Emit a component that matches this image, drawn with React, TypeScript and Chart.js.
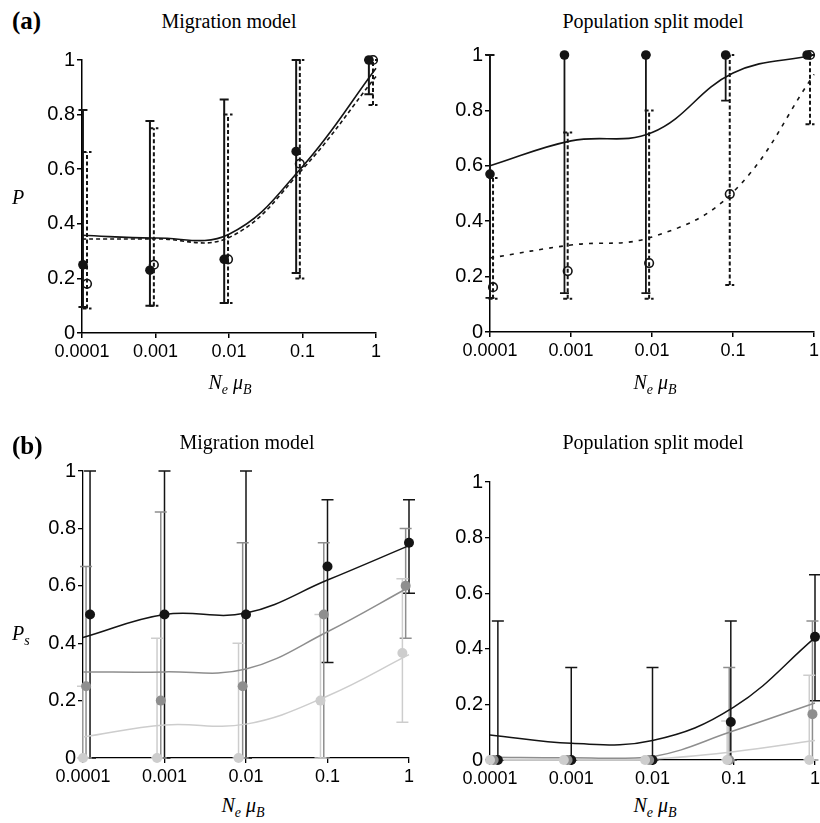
import React, { useEffect, useRef } from 'react';
import { Chart, registerables } from 'chart.js';
Chart.register(...registerables);

// ---------- shared axis data ----------
const X_TICKS = [0.0001, 0.001, 0.01, 0.1, 1];
const X_TICK_LABELS = ['0.0001', '0.001', '0.01', '0.1', '1'];
const Y_TICKS = [0, 0.2, 0.4, 0.6, 0.8, 1];
const Y_TICK_LABELS = ['0', '0.2', '0.4', '0.6', '0.8', '1'];
const CURVE_X = [0.0001, 0.001, 0.01, 0.1, 1];

// ---------- (a) Migration model ----------
const aMigFilledX = [0.000103, 0.00084, 0.0086, 0.082, 0.8];
const aMigFilledP = [0.25, 0.23, 0.27, 0.665, 1.0];
const aMigFilledLo = [0.095, 0.1, 0.11, 0.22, 0.875];
const aMigFilledHi = [0.817, 0.777, 0.855, 1.0, 1.0];
const aMigOpenX = [0.000117, 0.00095, 0.0097, 0.092, 0.91];
const aMigOpenP = [0.18, 0.25, 0.27, 0.62, 1.0];
const aMigOpenLo = [0.09, 0.1, 0.11, 0.2, 0.835];
const aMigOpenHi = [0.663, 0.75, 0.8, 1.0, 1.0];
const aMigSolidCurve = [0.358, 0.348, 0.362, 0.61, 0.97];
const aMigDashedCurve = [0.344, 0.345, 0.35, 0.6, 0.94];

// ---------- (a) Population split model ----------
const aSplitFilledX = [0.0001, 0.00083, 0.0084, 0.081, 0.82];
const aSplitFilledP = [0.57, 1, 1, 1, 1];
const aSplitFilledLo = [0.123, 0.14, 0.14, 0.835, 1];
const aSplitFilledHi = [1, 1, 1, 1, 1];
const aSplitOpenX = [0.000109, 0.00091, 0.0092, 0.091, 0.89];
const aSplitOpenP = [0.162, 0.22, 0.249, 0.498, 1];
const aSplitOpenLo = [0.12, 0.12, 0.12, 0.17, 0.75];
const aSplitOpenHi = [0.556, 0.72, 0.8, 1.0, 1.0];
const aSplitSolidCurve = [0.6, 0.69, 0.72, 0.935, 1.0];
const aSplitDashedCurve = [0.267, 0.314, 0.343, 0.505, 0.93];

// ---------- (b) Migration model ----------
const bMigBlackX = [0.000122, 0.001, 0.01, 0.1, 1];
const bMigGrayX = [0.000109, 0.0009, 0.0091, 0.09, 0.91];
const bMigLightX = [0.0001, 0.00081, 0.0081, 0.082, 0.83];
const bMigBlackP = [0.5, 0.5, 0.5, 0.667, 0.75];
const bMigBlackLo = [0, 0, 0, 0.333, 0.574];
const bMigBlackHi = [1, 1, 1, 0.9, 0.9];
const bMigGrayP = [0.25, 0.2, 0.25, 0.5, 0.6];
const bMigGrayLo = [0, 0, 0, 0, 0.417];
const bMigGrayHi = [0.667, 0.857, 0.75, 0.75, 0.8];
const bMigLightP = [0, 0, 0, 0.2, 0.366];
const bMigLightLo = [0, 0, 0, 0, 0.125];
const bMigLightHi = [0.25, 0.417, 0.4, 0.5, 0.625];
const bMigBlackCurve = [0.42, 0.5, 0.505, 0.62, 0.74];
const bMigGrayCurve = [0.3, 0.3, 0.31, 0.44, 0.595];
const bMigLightCurve = [0.073, 0.115, 0.118, 0.216, 0.36];

// ---------- (b) Population split model ----------
const bSplitBlackX = [0.000125, 0.001, 0.01, 0.092, 1];
const bSplitGrayX = [0.000111, 0.0009, 0.0091, 0.088, 0.93];
const bSplitLightX = [0.0001, 0.00081, 0.0081, 0.083, 0.85];
const bSplitBlackP = [0, 0, 0, 0.137, 0.443];
const bSplitBlackLo = [0, 0, 0, 0, 0.213];
const bSplitBlackHi = [0.5, 0.333, 0.333, 0.5, 0.666];
const bSplitGrayP = [0, 0, 0, 0, 0.165];
const bSplitGrayLo = [0, 0, 0, 0, 0];
const bSplitGrayHi = [0, 0, 0, 0.333, 0.5];
const bSplitLightP = [0, 0, 0, 0, 0];
const bSplitLightLo = [0, 0, 0, 0, 0];
const bSplitLightHi = [0, 0, 0, 0.14, 0.305];
const bSplitBlackCurve = [0.09, 0.06, 0.07, 0.19, 0.44];
const bSplitGrayCurve = [0.01, 0.008, 0.012, 0.105, 0.205];
const bSplitLightCurve = [0.002, 0.002, 0.004, 0.03, 0.07];

// ---------- styles ----------
const BLACK = '#141414';
const GRAY = '#8e8e8e';
const LIGHT = '#cdcdcd';
const SANS = "'Liberation Sans', Arial, sans-serif";
const SERIF = "'Liberation Serif', 'Times New Roman', serif";

type Bar = { x: number[]; lo: number[]; hi: number[]; color: string; width: number; dash: number[]; cap: number };
type Box = { l: number; t: number; w: number; h: number };
type Area = { l: number; t: number; r: number; b: number };

const pts = (xs: number[], ys: number[]) => xs.map((x, i) => ({ x, y: ys[i] }));

const filled = (xs: number[], ys: number[], color: string, r = 5) => ({
  data: pts(xs, ys), showLine: false, pointRadius: r, pointBackgroundColor: color,
  pointBorderColor: color, pointBorderWidth: 0, clip: false,
});
const open = (xs: number[], ys: number[]) => ({
  data: pts(xs, ys), showLine: false, pointRadius: 4.3, pointBackgroundColor: 'rgba(255,255,255,0)',
  pointBorderColor: BLACK, pointBorderWidth: 1.6, clip: false,
});
const curve = (ys: number[], color: string, width: number, dash: number[] = []) => ({
  data: pts(CURVE_X, ys), showLine: true, pointRadius: 0, borderColor: color, borderWidth: width,
  borderDash: dash, tension: 0.4, fill: false, clip: false,
});

function Panel(props: { box: Box; area: Area; datasets: any[]; bars: Bar[]; axisW: number }) {
  const ref = useRef<HTMLCanvasElement | null>(null);
  useEffect(() => {
    const { box, area, datasets, bars, axisW } = props;
    const yW = 44;
    const xH = 32;
    const pad = {
      left: area.l - box.l - yW,
      top: area.t - box.t,
      right: box.l + box.w - area.r,
      bottom: box.t + box.h - area.b - xH,
    };
    const barPlugin = {
      id: 'errorBars',
      beforeDatasetsDraw(chart: any) {
        const ctx = chart.ctx;
        const xs = chart.scales.x;
        const ys = chart.scales.y;
        bars.forEach((b) => {
          ctx.save();
          ctx.strokeStyle = b.color;
          ctx.lineWidth = b.width;
          ctx.setLineDash(b.dash);
          b.x.forEach((xv, i) => {
            const px = xs.getPixelForValue(xv);
            const lo = ys.getPixelForValue(b.lo[i]);
            const hi = ys.getPixelForValue(b.hi[i]);
            if (Math.abs(lo - hi) < 0.5) return;
            ctx.beginPath();
            ctx.moveTo(px, lo);
            ctx.lineTo(px, hi);
            ctx.stroke();
            ctx.beginPath();
            ctx.moveTo(px - b.cap, hi);
            ctx.lineTo(px + b.cap, hi);
            ctx.moveTo(px - b.cap, lo);
            ctx.lineTo(px + b.cap, lo);
            ctx.stroke();
          });
          ctx.restore();
        });
      },
    };
    const chart = new Chart(ref.current as HTMLCanvasElement, {
      type: 'scatter',
      data: { datasets },
      plugins: [barPlugin],
      options: {
        animation: false,
        responsive: false,
        maintainAspectRatio: false,
        events: [],
        layout: { padding: pad },
        plugins: { legend: { display: false }, tooltip: { enabled: false } },
        scales: {
          x: {
            type: 'logarithmic',
            min: 0.0001,
            max: 1,
            afterBuildTicks: (s: any) => { s.ticks = X_TICKS.map((v) => ({ value: v })); },
            afterFit: (s: any) => { s.height = xH; s.paddingLeft = 0; s.paddingRight = 0; },
            ticks: {
              autoSkip: false, maxRotation: 0, minRotation: 0, padding: 3, color: '#000',
              font: { family: SANS, size: 18 },
              callback: (v: any) => X_TICK_LABELS[X_TICKS.indexOf(v)],
            },
            grid: { display: true, drawOnChartArea: false, drawTicks: true, tickLength: 5, color: '#000', lineWidth: axisW },
            border: { display: true, color: '#000', width: axisW },
          },
          y: {
            type: 'linear',
            min: 0,
            max: 1,
            afterBuildTicks: (s: any) => { s.ticks = Y_TICKS.map((v) => ({ value: v })); },
            afterFit: (s: any) => { s.width = yW; s.paddingTop = 0; s.paddingBottom = 0; },
            ticks: {
              padding: 2, color: '#000',
              font: { family: SANS, size: 20 },
              callback: (v: any) => Y_TICK_LABELS[Y_TICKS.indexOf(v)],
            },
            grid: { display: true, drawOnChartArea: false, drawTicks: true, tickLength: 5, color: '#000', lineWidth: axisW },
            border: { display: true, color: '#000', width: axisW },
          },
        },
      } as any,
    });
    return () => chart.destroy();
  }, []);
  const { box } = props;
  return (
    <canvas
      ref={ref}
      width={box.w}
      height={box.h}
      style={{ position: 'absolute', left: box.l, top: box.t, width: box.w, height: box.h, display: 'block' }}
    />
  );
}

function Txt(props: { x: number; y: number; size: number; center?: boolean; bold?: boolean; italic?: boolean; children: any }) {
  const { x, y, size, center, bold, italic, children } = props;
  return (
    <div
      style={{
        position: 'absolute', left: x, top: y, fontFamily: SERIF, fontSize: size, lineHeight: `${size}px`,
        fontWeight: bold ? 'bold' : 'normal', fontStyle: italic ? 'italic' : 'normal', whiteSpace: 'nowrap',
        transform: center ? 'translateX(-50%)' : undefined, color: '#000',
      }}
    >
      {children}
    </div>
  );
}

const sub = (t: string) => (
  <span style={{ fontSize: 14, verticalAlign: -5, lineHeight: '14px' }}>{t}</span>
);

const XTitle = () => (
  <>
    N{sub('e')}&nbsp;μ{sub('B')}
  </>
);

export default function App() {
  const aMigBars: Bar[] = [
    { x: aMigFilledX, lo: aMigFilledLo, hi: aMigFilledHi, color: BLACK, width: 2, dash: [], cap: 4.5 },
    { x: aMigOpenX, lo: aMigOpenLo, hi: aMigOpenHi, color: BLACK, width: 2, dash: [4, 2.5], cap: 4.5 },
  ];
  const aMigSets = [
    open(aMigOpenX, aMigOpenP),
    filled(aMigFilledX, aMigFilledP, BLACK, 4.8),
    curve(aMigSolidCurve, BLACK, 1.6),
    curve(aMigDashedCurve, BLACK, 1.6, [4, 3]),
  ];
  const aSplitBars: Bar[] = [
    { x: aSplitFilledX, lo: aSplitFilledLo, hi: aSplitFilledHi, color: BLACK, width: 1.8, dash: [], cap: 4.5 },
    { x: aSplitOpenX, lo: aSplitOpenLo, hi: aSplitOpenHi, color: BLACK, width: 2, dash: [4, 2.5], cap: 4.5 },
  ];
  const aSplitSets = [
    open(aSplitOpenX, aSplitOpenP),
    filled(aSplitFilledX, aSplitFilledP, BLACK, 4.8),
    curve(aSplitSolidCurve, BLACK, 1.6),
    curve(aSplitDashedCurve, BLACK, 1.6, [4, 6]),
  ];
  const bMigBars: Bar[] = [
    { x: bMigBlackX, lo: bMigBlackLo, hi: bMigBlackHi, color: BLACK, width: 1.5, dash: [], cap: 6 },
    { x: bMigGrayX, lo: bMigGrayLo, hi: bMigGrayHi, color: GRAY, width: 1.5, dash: [], cap: 6 },
    { x: bMigLightX, lo: bMigLightLo, hi: bMigLightHi, color: LIGHT, width: 1.5, dash: [], cap: 6 },
  ];
  const bMigSets = [
    filled(bMigLightX, bMigLightP, LIGHT),
    filled(bMigGrayX, bMigGrayP, GRAY),
    filled(bMigBlackX, bMigBlackP, BLACK),
    curve(bMigBlackCurve, BLACK, 1.5),
    curve(bMigGrayCurve, GRAY, 1.5),
    curve(bMigLightCurve, LIGHT, 1.5),
  ];
  const bSplitBars: Bar[] = [
    { x: bSplitBlackX, lo: bSplitBlackLo, hi: bSplitBlackHi, color: BLACK, width: 1.5, dash: [], cap: 6 },
    { x: bSplitGrayX, lo: bSplitGrayLo, hi: bSplitGrayHi, color: GRAY, width: 1.5, dash: [], cap: 6 },
    { x: bSplitLightX, lo: bSplitLightLo, hi: bSplitLightHi, color: LIGHT, width: 1.5, dash: [], cap: 6 },
  ];
  const bSplitSets = [
    filled(bSplitLightX, bSplitLightP, LIGHT),
    filled(bSplitGrayX, bSplitGrayP, GRAY),
    filled(bSplitBlackX, bSplitBlackP, BLACK),
    curve(bSplitBlackCurve, BLACK, 1.5),
    curve(bSplitGrayCurve, GRAY, 1.5),
    curve(bSplitLightCurve, LIGHT, 1.5),
  ];

  return (
    <div style={{ position: 'absolute', left: 0, top: 0, width: 820, height: 823, background: '#fff', overflow: 'hidden' }}>
      <Panel box={{ l: 20, t: 40, w: 380, h: 345 }} area={{ l: 82, t: 60, r: 376, b: 333 }} datasets={aMigSets} bars={aMigBars} axisW={1.5} />
      <Panel box={{ l: 430, t: 35, w: 390, h: 350 }} area={{ l: 490, t: 55, r: 817, b: 332 }} datasets={aSplitSets} bars={aSplitBars} axisW={1.5} />
      <Panel box={{ l: 20, t: 450, w: 400, h: 340 }} area={{ l: 83, t: 471, r: 409, b: 758 }} datasets={bMigSets} bars={bMigBars} axisW={1.3} />
      <Panel box={{ l: 430, t: 460, w: 390, h: 330 }} area={{ l: 490, t: 482, r: 816, b: 760 }} datasets={bSplitSets} bars={bSplitBars} axisW={1.3} />

      <Txt x={12} y={8} size={25} bold>(a)</Txt>
      <Txt x={229} y={11} size={20} center>Migration model</Txt>
      <Txt x={653} y={11} size={20} center>Population split model</Txt>
      <Txt x={12} y={187} size={20} italic>P</Txt>
      <Txt x={230} y={372} size={20} italic center><XTitle /></Txt>
      <Txt x={655} y={372} size={20} italic center><XTitle /></Txt>

      <Txt x={12} y={433} size={25} bold>(b)</Txt>
      <Txt x={247} y={432} size={20} center>Migration model</Txt>
      <Txt x={653} y={432} size={20} center>Population split model</Txt>
      <Txt x={12} y={623} size={20} italic>P{sub('s')}</Txt>
      <Txt x={243} y={795} size={20} italic center><XTitle /></Txt>
      <Txt x={655} y={795} size={20} italic center><XTitle /></Txt>
    </div>
  );
}
